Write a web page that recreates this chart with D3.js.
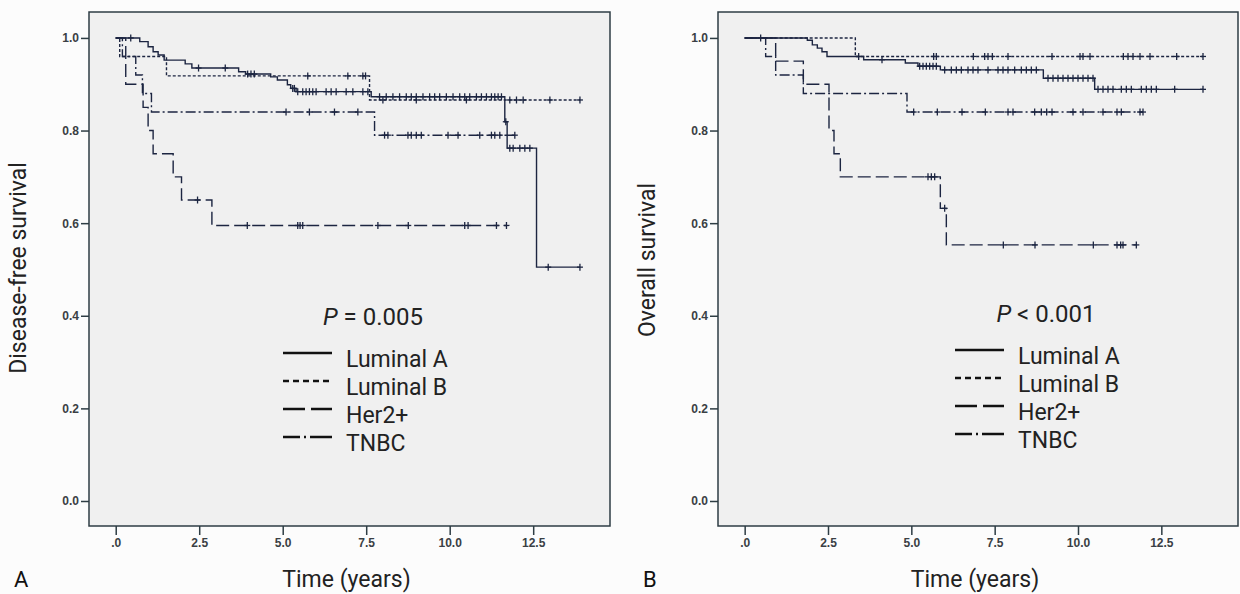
<!DOCTYPE html>
<html>
<head>
<meta charset="utf-8">
<script src="https://cdn.jsdelivr.net/npm/d3@7"></script>
<style>
  body { margin: 0; background: #fcfcfc; }
  svg { display: block; }
</style>
</head>
<body>
<div class="canvas"></div>
<script>
// Data: [time in years, survival]
const groups = ["Luminal A", "Luminal B", "Her2+", "TNBC"];

const dfsLumA = [[0, 1], [0.72, 0.992], [0.97, 0.981], [1.12, 0.97], [1.27, 0.963], [1.45, 0.952], [2.08, 0.944], [2.28, 0.935], [3.68, 0.927], [3.89, 0.922], [4.64, 0.916], [4.84, 0.909], [5.14, 0.899], [5.24, 0.891], [5.4, 0.884], [7.65, 0.873], [11.65, 0.819], [11.72, 0.762], [12.6, 0.505]];
const dfsLumACens = [0.45, 2.48, 3.28, 3.95, 4.05, 4.15, 5.3, 5.35, 5.45, 5.6, 5.7, 5.8, 5.9, 6.0, 6.3, 6.45, 6.6, 6.9, 7.1, 7.4, 7.55, 7.9, 8.1, 8.3, 8.5, 8.7, 8.85, 9.0, 9.2, 9.4, 9.55, 9.7, 9.9, 10.1, 10.3, 10.45, 10.6, 10.8, 10.95, 11.1, 11.25, 11.35, 11.45, 11.55, 11.68, 11.8, 11.9, 12.1, 12.25, 12.4, 12.95, 13.9];
const dfsLumB = [[0, 1], [0.12, 0.96], [1.52, 0.918], [7.6, 0.866]];
const dfsLumBCens = [5.75, 6.95, 7.4, 7.48, 8.0, 9.0, 10.5, 11.8, 12.0, 12.2, 13.0, 13.9];
const dfsHer2 = [[0, 1], [0.3, 0.9], [0.82, 0.85], [0.97, 0.8], [1.12, 0.75], [1.72, 0.7], [1.97, 0.65], [2.88, 0.595]];
const dfsHer2Cens = [2.45, 3.94, 5.45, 5.52, 5.6, 7.85, 8.76, 10.45, 10.55, 11.4, 11.7];
const dfsTnbc = [[0, 1], [0.2, 0.96], [0.6, 0.92], [0.8, 0.88], [1.07, 0.84], [7.75, 0.79]];
const dfsTnbcCens = [5.1, 5.8, 6.55, 7.25, 8.05, 8.15, 8.75, 8.85, 9.0, 9.15, 9.95, 10.25, 10.9, 11.25, 11.35, 11.5, 11.95];

const osLumA = [[0, 1], [1.88, 0.995], [2.03, 0.985], [2.18, 0.978], [2.32, 0.97], [2.47, 0.96], [3.57, 0.953], [4.82, 0.946], [5.2, 0.939], [5.87, 0.931], [8.96, 0.913], [10.5, 0.889]];
const osLumACens = [0.48, 4.12, 5.25, 5.35, 5.45, 5.55, 5.65, 5.75, 6.0, 6.2, 6.35, 6.5, 6.7, 6.85, 7.0, 7.3, 7.6, 7.75, 7.9, 8.1, 8.3, 8.45, 8.6, 8.75, 9.1, 9.25, 9.4, 9.55, 9.7, 9.85, 10.0, 10.15, 10.3, 10.45, 10.6, 10.75, 10.9, 11.05, 11.3, 11.45, 11.6, 11.9, 12.05, 12.2, 12.35, 12.9, 13.75];
const osLumB = [[0, 1], [3.32, 0.96]];
const osLumBCens = [3.42, 5.67, 5.75, 6.86, 7.2, 7.3, 7.43, 7.9, 9.22, 10.06, 10.15, 10.36, 11.36, 11.5, 11.65, 11.86, 12.16, 12.96, 13.75];
const osHer2 = [[0, 1], [0.93, 0.95], [1.76, 0.9], [2.53, 0.8], [2.68, 0.75], [2.87, 0.7], [5.87, 0.632], [6.05, 0.553]];
const osHer2Cens = [5.5, 5.6, 5.7, 6.0, 7.76, 8.71, 10.46, 11.17, 11.28, 11.35, 11.75];
const osTnbc = [[0, 1], [0.63, 0.96], [0.93, 0.92], [1.76, 0.88], [4.87, 0.84]];
const osTnbcCens = [5.07, 5.78, 6.52, 7.22, 7.9, 8.05, 8.7, 8.9, 9.06, 9.22, 9.85, 10.15, 10.75, 11.17, 11.3, 11.86, 11.95];

const xTicks = [0, 2.5, 5, 7.5, 10, 12.5];
const xTickLabels = [".0", "2.5", "5.0", "7.5", "10.0", "12.5"];
const yTicks = [0, 0.2, 0.4, 0.6, 0.8, 1.0];

// line styles per group (curves and legend keys use different dash lengths, like SPSS)
const dashes = ["none", "3,2", "13,5", "10,3,2,3"];
const legDashes = ["none", "6,4", "22,6", "17,4,2,4,22"];
const ink = "#1c2541";
const font = "Roboto, Open Sans, sans-serif";

const svg = d3
  .select(".canvas")
  .append("svg")
  .attr("width", 1240)
  .attr("height", 594);

// one panel
const drawPanel = (p) => {
  const x = d3.scaleLinear().domain([-0.8, 14.8]).range([p.left, p.right]);
  const y = d3.scaleLinear().domain([-0.054, 1.056]).range([526, 12]);

  svg
    .append("rect")
    .attr("x", p.left)
    .attr("y", 12)
    .attr("width", p.right - p.left)
    .attr("height", 514)
    .attr("fill", "#f0f0f0");

  // axes
  const xAxis = d3
    .axisBottom(x)
    .tickValues(xTicks)
    .tickSize(9)
    .tickPadding(3)
    .tickFormat((d, i) => xTickLabels[i]);
  const yAxis = d3
    .axisLeft(y)
    .tickValues(yTicks)
    .tickSize(8)
    .tickPadding(2)
    .tickFormat(d3.format(".1f"));

  [
    svg.append("g").attr("transform", "translate(0,526)").call(xAxis),
    svg.append("g").attr("transform", `translate(${p.left},0)`).call(yAxis),
  ].forEach((g) => {
    g.select(".domain").remove();
    g.selectAll("line").attr("stroke", "#2e3d44").attr("stroke-width", 1.5);
    g.selectAll("text")
      .attr("fill", "#3a3f44")
      .style("font-family", "Liberation Sans, Arial, sans-serif")
      .style("font-size", "12px")
      .style("font-weight", "bold");
  });

  // curves
  const line = d3
    .line()
    .x((d) => x(d[0]))
    .y((d) => y(d[1]))
    .curve(d3.curveStepAfter);

  p.series.forEach((s, i) => {
    const last = s.steps[s.steps.length - 1];
    const end = Math.max(d3.max(s.cens), last[0]);
    svg
      .append("path")
      .attr("d", line(s.steps.concat([[end, last[1]]])))
      .attr("fill", "none")
      .attr("stroke", ink)
      .attr("stroke-width", 1.4)
      .attr("stroke-dasharray", dashes[i]);

    // censor marks
    const surv = (t) => {
      let v = 1;
      s.steps.forEach((e) => {
        if (e[0] <= t) v = e[1];
      });
      return v;
    };
    const m = svg.append("g").attr("stroke", ink).attr("stroke-width", 1.3);
    s.cens.forEach((t) => {
      const cx = x(t);
      const cy = y(surv(t));
      m.append("line").attr("x1", cx).attr("x2", cx).attr("y1", cy - 3.5).attr("y2", cy + 3.5);
      m.append("line").attr("x1", cx - 3).attr("x2", cx + 3).attr("y1", cy).attr("y2", cy);
    });
  });

  // frame
  svg
    .append("rect")
    .attr("x", p.left)
    .attr("y", 12)
    .attr("width", p.right - p.left)
    .attr("height", 514)
    .attr("fill", "none")
    .attr("stroke", "#2e3d44")
    .attr("stroke-width", 1.5);

  // axis titles
  svg
    .append("text")
    .attr("x", (p.left + p.right) / 2 - 3)
    .attr("y", 587)
    .attr("text-anchor", "middle")
    .style("font-family", font)
    .style("font-size", "23px")
    .attr("fill", "#222")
    .text("Time (years)");

  svg
    .append("text")
    .attr("transform", `translate(${p.left - 63},${p.ylabY}) rotate(-90)`)
    .attr("text-anchor", "middle")
    .style("font-family", font)
    .style("font-size", "23px")
    .attr("fill", "#222")
    .text(p.ylab);

  svg
    .append("text")
    .attr("x", p.left - 75)
    .attr("y", 587)
    .style("font-family", font)
    .style("font-size", "22px")
    .attr("fill", "#111")
    .text(p.letter);

  // p value + legend
  const pv = svg
    .append("text")
    .attr("x", p.pvX)
    .attr("y", p.legY - 42)
    .attr("text-anchor", "middle")
    .style("font-family", font)
    .style("font-size", "24px")
    .attr("fill", "#222");
  pv.append("tspan").style("font-style", "italic").text("P");
  pv.append("tspan").text(p.pText);

  groups.forEach((g, i) => {
    const by = p.legY + i * 28;
    svg
      .append("line")
      .attr("x1", p.legX)
      .attr("x2", p.legX + 49)
      .attr("y1", by - 14)
      .attr("y2", by - 14)
      .attr("stroke", "#111")
      .attr("stroke-width", 2.5)
      .attr("stroke-dasharray", legDashes[i]);
    svg
      .append("text")
      .attr("x", p.legX + 63)
      .attr("y", by)
      .style("font-family", font)
      .style("font-size", "23px")
      .attr("fill", "#222")
      .text(g);
  });
};

drawPanel({
  left: 89,
  right: 610,
  letter: "A",
  ylab: "Disease-free survival",
  ylabY: 268,
  pText: " = 0.005",
  pvX: 373,
  legX: 283,
  legY: 367,
  series: [
    { steps: dfsLumA, cens: dfsLumACens },
    { steps: dfsLumB, cens: dfsLumBCens },
    { steps: dfsHer2, cens: dfsHer2Cens },
    { steps: dfsTnbc, cens: dfsTnbcCens },
  ],
});

drawPanel({
  left: 718,
  right: 1238,
  letter: "B",
  ylab: "Overall survival",
  ylabY: 260,
  pText: " < 0.001",
  pvX: 1046,
  legX: 955,
  legY: 364,
  series: [
    { steps: osLumA, cens: osLumACens },
    { steps: osLumB, cens: osLumBCens },
    { steps: osHer2, cens: osHer2Cens },
    { steps: osTnbc, cens: osTnbcCens },
  ],
});
</script>
</body>
</html>
